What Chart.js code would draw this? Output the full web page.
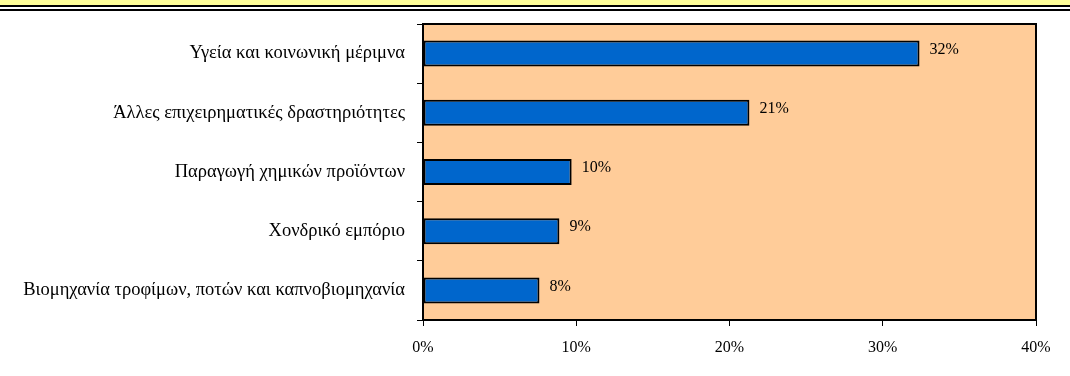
<!DOCTYPE html>
<html>
<head>
<meta charset="utf-8">
<script src="https://cdn.jsdelivr.net/npm/chart.js@4/dist/chart.umd.min.js"></script>
<style>
  html, body { margin: 0; padding: 0; background: #fff; }
  #wrap { position: relative; width: 1070px; height: 376px; }
  #band { position: absolute; left: 0; top: 0; width: 1070px; height: 5px; background: #FFFF99; }
  #line1 { position: absolute; left: 0; top: 5px; width: 1070px; height: 2px; background: #000; }
  #line2 { position: absolute; left: 0; top: 9px; width: 1070px; height: 2px; background: #000; }
</style>
</head>
<body>
<div id="wrap">
  <canvas id="bar-chart" width="1070" height="376"></canvas>
  <div id="band"></div>
  <div id="line1"></div>
  <div id="line2"></div>
</div>
<script>
// Data
var categories = [
  "Υγεία και κοινωνική μέριμνα",
  "Άλλες επιχειρηματικές δραστηριότητες",
  "Παραγωγή χημικών προϊόντων",
  "Χονδρικό εμπόριο",
  "Βιομηχανία τροφίμων, ποτών και καπνοβιομηχανία"
];
var values = [32.4, 21.3, 9.7, 8.9, 7.6];
var valueLabels = ["32%", "21%", "10%", "9%", "8%"];
var xTicks = [0, 10, 20, 30, 40];

var FONT = "'Liberation Serif', 'DejaVu Serif', serif";

// plot background + frame
var plotFrame = {
  id: 'plotFrame',
  beforeDraw: function(chart) {
    var a = chart.chartArea, ctx = chart.ctx;
    ctx.save();
    ctx.fillStyle = '#FFCC99';
    ctx.fillRect(a.left, a.top, a.right - a.left, a.bottom - a.top);
    ctx.restore();
  },
  afterDatasetsDraw: function(chart) {
    var a = chart.chartArea, ctx = chart.ctx;
    ctx.save();
    ctx.strokeStyle = '#000';
    ctx.lineWidth = 2;
    ctx.strokeRect(a.left, a.top, a.right - a.left, a.bottom - a.top);
    // value labels
    ctx.fillStyle = '#000';
    ctx.font = '16px ' + FONT;
    ctx.textAlign = 'left';
    ctx.textBaseline = 'middle';
    chart.getDatasetMeta(0).data.forEach(function(bar, i) {
      ctx.fillText(valueLabels[i], bar.x + 10, bar.y - 4);
    });
    ctx.restore();
  }
};

new Chart(document.getElementById("bar-chart"), {
  type: 'bar',
  data: {
    labels: categories,
    datasets: [{
      data: values,
      backgroundColor: '#0066CC',
      borderColor: '#000',
      borderWidth: 2,
      borderSkipped: false,
      categoryPercentage: 1,
      barPercentage: 0.44
    }]
  },
  options: {
    indexAxis: 'y',
    responsive: false,
    animation: false,
    layout: { padding: { top: 24, right: 34, bottom: 0, left: 0 } },
    plugins: {
      legend: { display: false },
      title: { display: false },
      tooltip: { enabled: false }
    },
    scales: {
      x: {
        min: 0,
        max: 40,
        afterBuildTicks: function(s) { s.ticks = xTicks.map(function(v) { return { value: v }; }); },
        afterFit: function(s) { s.height = 56; },
        grid: { drawOnChartArea: false, drawTicks: true, tickLength: 6, color: '#000' },
        border: { display: false },
        ticks: {
          color: '#000',
          padding: 12,
          font: { family: FONT, size: 16 },
          callback: function(v) { return v + '%'; }
        }
      },
      y: {
        afterFit: function(s) { s.width = 423; },
        grid: { drawOnChartArea: false, drawTicks: true, tickLength: 6, color: '#000', offset: true },
        border: { display: false },
        ticks: {
          color: '#000',
          padding: 12,
          font: { family: FONT, size: 18.5 }
        }
      }
    }
  },
  plugins: [plotFrame]
});
</script>
</body>
</html>
